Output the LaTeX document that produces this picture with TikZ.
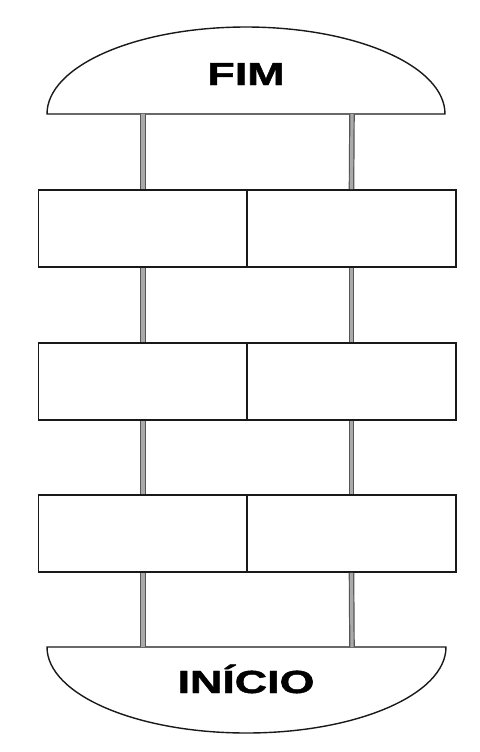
\documentclass[tikz,border=0pt]{standalone}
\usepackage{fontspec}
\setmainfont{Liberation Sans}
\newfontfamily\heavyfont[BoldFeatures={FakeBold=1.3}]{Liberation Sans}
\usetikzlibrary{positioning}
\definecolor{edgeline}{RGB}{25,25,25}
\definecolor{polefill}{RGB}{170,170,170}
\definecolor{poleline}{RGB}{85,85,85}
\newcommand{\wide}[1]{\scalebox{1.4}[1]{#1}}

\begin{document}
\begin{tikzpicture}[
  x=0.5pt, y=-0.5pt,
  brick/.style={draw=edgeline, fill=white, line width=0.8pt,
                minimum width=104.5pt, minimum height=38.5pt, inner sep=0pt},
  dome/.style={draw=edgeline, fill=white, line width=0.7pt},
  pole/.style={draw=poleline, line width=0.6pt, double=polefill,
               double distance=1.6pt},
  word/.style={font=\heavyfont\fontsize{16}{18}\selectfont\bfseries,
               inner sep=0pt}
]
\useasboundingbox[fill=white] (0,0) rectangle (480,752);

% ---- domes
\draw[dome] (47,114) arc[start angle=180, end angle=360,
  x radius=199, y radius=87] -- cycle;
\node[word] (fim) at (246,74) {\wide{FIM}};
\draw[dome] (47,647) arc[start angle=180, end angle=0,
  x radius=199.5, y radius=86] -- cycle;
\node[word, anchor=base] (inicio) at (246,693) {\wide{INÍCIO}};
\coordinate (fimL) at (143,114);
\coordinate (fimR) at (352,114);
\coordinate (iniL) at (143,647);
\coordinate (iniR) at (352,647);

% ---- bricks
\node[brick] (b1l) at (143,228.5) {};
\node[brick] (b1r) at (351.5,228.5) {};
\node[brick] (b2l) at (143,381.5) {};
\node[brick] (b2r) at (351.5,381.5) {};
\node[brick] (b3l) at (143,533.5) {};
\node[brick] (b3r) at (351.5,533.5) {};

% ---- poles
\draw[pole] (fimL) -- (b1l.north);
\draw[pole] (fimR) -- (b1r.north);
\draw[pole] (b1l.south) -- (b2l.north);
\draw[pole] (b1r.south) -- (b2r.north);
\draw[pole] (b2l.south) -- (b3l.north);
\draw[pole] (b2r.south) -- (b3r.north);
\draw[pole] (b3l.south) -- (iniL);
\draw[pole] (b3r.south) -- (iniR);
\end{tikzpicture}
\end{document}
